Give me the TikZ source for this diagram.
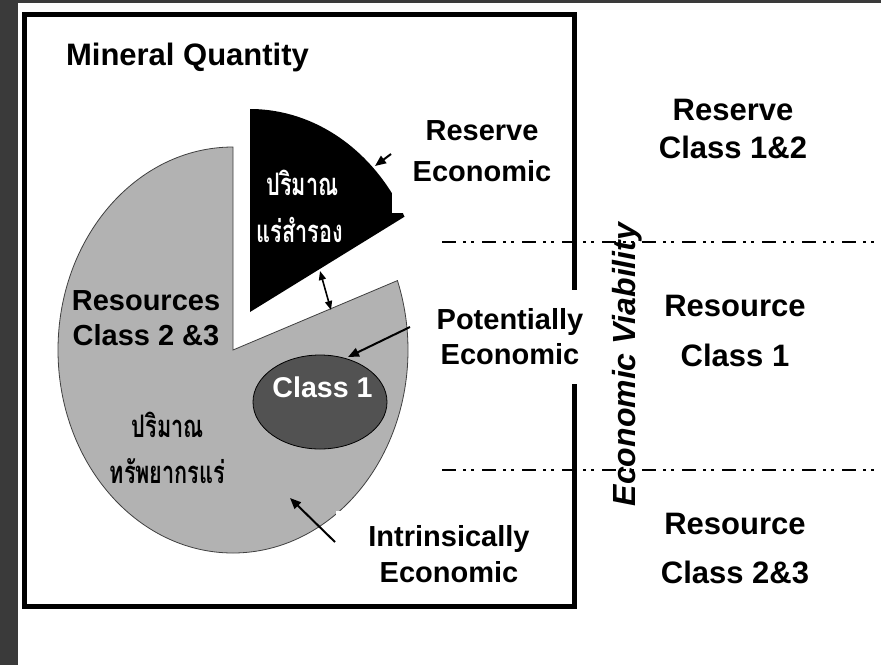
\documentclass[tikz,border=0pt]{standalone}
\usepackage{fontspec}
\usepackage{graphicx}
\setmainfont{Liberation Sans}
\newfontfamily\thaifont[Script=Thai]{Loma}
\usetikzlibrary{arrows.meta}

\definecolor{frameDark}{HTML}{3A3A3A}
\definecolor{pieGray}{HTML}{B2B2B2}
\definecolor{classGray}{HTML}{525252}

\begin{document}
\begin{tikzpicture}[x=1pt,y=-1pt,
  lbl/.style={align=center, inner sep=0pt},
  big/.style={font=\fontsize{31}{#1}\selectfont\bfseries},
  mid/.style={font=\fontsize{29}{#1}\selectfont\bfseries},
  thai/.style={anchor=base, inner sep=0pt, font=\thaifont\bfseries\fontsize{31}{31}\selectfont},
  divider/.style={line width=2.8pt, dash pattern=on 14pt off 7pt on 3pt off 5pt on 3pt off 8pt},
  arr/.style={line width=2pt, -{Triangle[length=11pt,width=9pt]}},
  darr/.style={line width=1.6pt, {Triangle[length=9pt,width=7pt]}-{Triangle[length=9pt,width=7pt]}}
]
\useasboundingbox (0,0) rectangle (881,665);
\fill[white] (0,0) rectangle (881,665);
\fill[frameDark] (0,0) rectangle (17.5,665);
\fill[frameDark] (0,0) rectangle (881,3);

% resources: the pie with its slice taken out
\filldraw[fill=pieGray, draw=black!75, line width=0.8pt]
  (233,350) -- (233,147)
  arc[start angle=-90, end angle=-380, x radius=175, y radius=203] -- cycle;

% reserves: the slice, pulled out of the pie
\fill[black] (250,312) -- (250,109)
  arc[start angle=-90, end angle=-28, x radius=175, y radius=203] -- cycle;

% class 1 resources
\filldraw[fill=classGray, draw=black, line width=0.8pt] (320,402) ellipse[x radius=67, y radius=47];

% labels that sit on a white ground
\node[lbl, mid=41, fill=white, inner xsep=21pt, inner ysep=31pt] (resEcon) at (482,151) {Reserve\\Economic};
\node[lbl, mid=36, fill=white, inner xsep=32pt, inner ysep=15pt] (intrEcon) at (449,554.5) {Intrinsically\\Economic};

% frame
\draw[line width=5pt] (24,14.5) rectangle (574.5,606.5);

\node[lbl, mid=35, fill=white, inner xsep=6pt, inner ysep=19pt] (potEcon) at (510,337) {Potentially\\Economic};

% other labels
\node[lbl, big=36, anchor=base] (title) at (187.5,65) {Mineral Quantity};
\node[lbl, mid=35] (resLeft) at (146,318) {Resources\\Class 2 \&3};
\node[lbl, anchor=base, text=white, font=\fontsize{28.6}{30}\selectfont\bfseries] (classOne) at (322.5,397) {Class 1};

\node[thai, text=white] (thReserveA) at (302.5,195) {\scalebox{0.7}[1]{ปริมาณ}};
\node[thai, text=white] (thReserveB) at (300,242) {\scalebox{0.7}[1]{แร่สำรอง}};
\node[thai] (thResA) at (168,437) {\scalebox{0.7}[1]{ปริมาณ}};
\node[thai] (thResB) at (167.5,483) {\scalebox{0.7}[1]{ทรัพยากรแร่}};

\node[lbl, big=38] (rcA) at (733,129) {Reserve\\Class 1\&2};
\node[lbl, big=50] (rcB) at (735,331) {Resource\\Class 1};
\node[lbl, big=49] (rcC) at (735,549) {Resource\\Class 2\&3};

% economic viability boundaries
\coordinate (dUpL) at (442,242);
\coordinate (dUpR) at (881,242);
\coordinate (dLoL) at (442,470);
\coordinate (dLoR) at (881,470);
\draw[divider] (dUpL) -- (dUpR);
\draw[divider] (dLoL) -- (dLoR);

\node[rotate=90, anchor=base, inner sep=0pt, font=\fontsize{32}{32}\selectfont\bfseries\itshape] (viab) at (635,364.5) {Economic Viability};

% pointers
\coordinate (aResT) at (391,154);
\coordinate (aResH) at (375,166);
\draw[arr] (aResT) -- (aResH);

\coordinate (gapTop) at (320,271);
\coordinate (gapBot) at (331,310);
\draw[darr] (gapTop) -- (gapBot);

\coordinate (aPotT) at (410,327);
\coordinate (aPotH) at (348,357);
\draw[arr] (aPotT) -- (aPotH);

\coordinate (aIntT) at (335,542);
\coordinate (aIntH) at (290,498);
\draw[arr] (aIntT) -- (aIntH);
\end{tikzpicture}
\end{document}
